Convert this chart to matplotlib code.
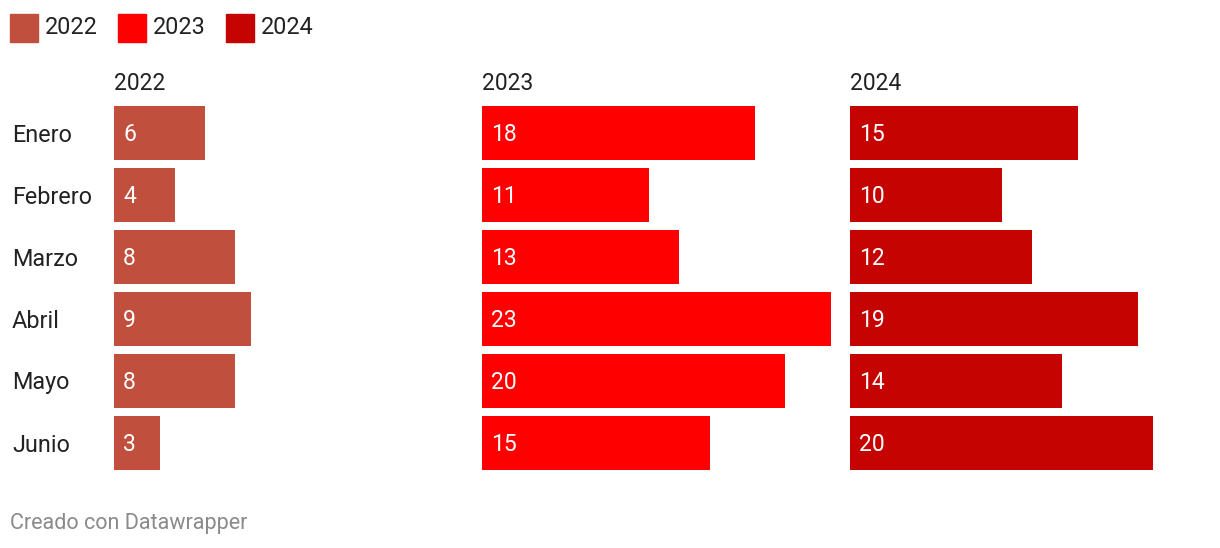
import matplotlib.pyplot as plt
from matplotlib.patches import Rectangle

months = ["Enero", "Febrero", "Marzo", "Abril", "Mayo", "Junio"]
years = ["2022", "2023", "2024"]
v2022 = [6, 4, 8, 9, 8, 3]
v2023 = [18, 11, 13, 23, 20, 15]
v2024 = [15, 10, 12, 19, 14, 20]
colors = ["#c0503d", "#ff0000", "#c50300"]

plt.rcParams['font.family'] = ['Roboto', 'DejaVu Sans']

W, H = 1220, 548
fig = plt.figure(figsize=(W / 100, H / 100), dpi=100)

xmax = 23
panel_lefts = [114, 482, 850]
panel_w = 349
top_px, bot_px = 102, 474

for left, year, vals, col in zip(panel_lefts, years, [v2022, v2023, v2024], colors):
    ax = fig.add_axes([left / W, 1 - bot_px / H, panel_w / W, (bot_px - top_px) / H])
    ax.barh(range(len(months)), vals, height=54 / 62, color=col, left=0)
    ax.set_xlim(0, xmax)
    ax.set_ylim(len(months) - 0.5, -0.5)
    ax.axis('off')
    for i, v in enumerate(vals):
        ax.annotate(str(v), (0, i), xytext=(6.5, -1), textcoords='offset points',
                    color='white', fontsize=16.5, va='center', ha='left')
    fig.text(left / W, 1 - 90 / H, year, fontsize=16.5, color='#222222', va='baseline', ha='left')

for i, m in enumerate(months):
    fig.text(12 / W, 1 - (135 + 62 * i) / H, m, fontsize=16.8, color='#222222',
             va='center', ha='left')

# legend
lx = 10
for year, col in zip(years, colors):
    fig.patches.append(Rectangle((lx / W, 1 - 42 / H), 28 / W, 28 / H, color=col,
                                 transform=fig.transFigure))
    fig.text((lx + 35) / W, 1 - 28 / H, year, fontsize=16.8, color='#222222',
             va='center', ha='left')
    lx += 108

fig.text(10 / W, 1 - 523 / H, "Creado con Datawrapper", fontsize=15.5, color='#8a8a8a',
         va='center', ha='left')

fig.savefig("out.png", dpi=100)
